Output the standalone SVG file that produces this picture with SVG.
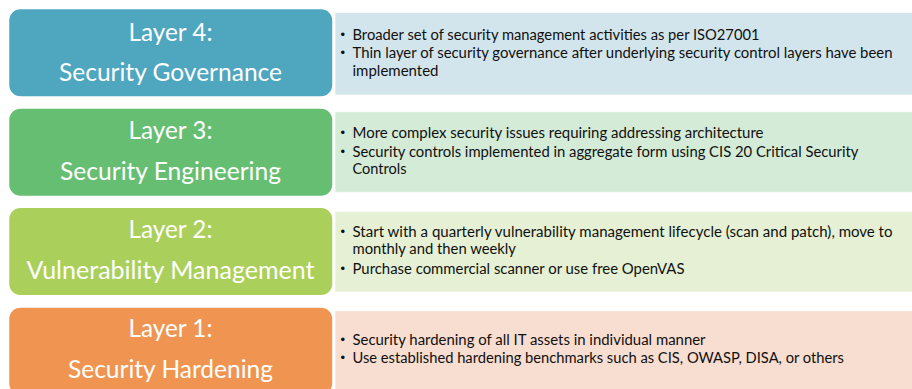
<svg xmlns="http://www.w3.org/2000/svg" width="912" height="389" viewBox="0 0 912 389">
  <style>
    .box { stroke: #ffffff; stroke-width: 1.5; }
    .panel { stroke: #ffffff; stroke-width: 1; stroke-opacity: 0.6; }
    .title { font-family: Lato, "Liberation Sans", sans-serif; font-size: 25px; fill: #ffffff; text-anchor: middle; }
    .body { font-family: Lato, "Liberation Sans", sans-serif; font-size: 15.5px; fill: #101010; }
    .dot { font-family: "Liberation Sans", sans-serif; font-size: 13px; fill: #101010; }
  </style>

  <rect width="912" height="389" fill="#ffffff"/>

  <!-- Layer 4 -->
  <g id="layer4">
    <rect class="panel" x="335" y="12.5" width="590" height="82.5" fill="#d3e5ec"/>
    <rect class="box" x="8.5" y="8.5" width="324.5" height="88.5" rx="12" fill="#4ea6bf"/>
    <text class="title" x="170.5" y="40.5" textLength="84" lengthAdjust="spacingAndGlyphs">Layer 4:</text>
    <text class="title" x="170.5" y="80.5" textLength="223" lengthAdjust="spacingAndGlyphs">Security Governance</text>
    <text class="dot" x="340.5" y="39">•</text>
    <text class="body" x="352.5" y="40" textLength="407" lengthAdjust="spacingAndGlyphs">Broader set of security management activities as per ISO27001</text>
    <text class="dot" x="340.5" y="57.3">•</text>
    <text class="body" x="352.5" y="58.3" textLength="540" lengthAdjust="spacingAndGlyphs">Thin layer of security governance after underlying security control layers have been</text>
    <text class="body" x="352.5" y="76" textLength="86" lengthAdjust="spacingAndGlyphs">implemented</text>
  </g>

  <!-- Layer 3 -->
  <g id="layer3">
    <rect class="panel" x="335" y="111.8" width="590" height="80.5" fill="#d4ebd7"/>
    <rect class="box" x="8.5" y="108" width="324.5" height="88.5" rx="12" fill="#66be72"/>
    <text class="title" x="170.5" y="139" textLength="84" lengthAdjust="spacingAndGlyphs">Layer 3:</text>
    <text class="title" x="170.5" y="180" textLength="221" lengthAdjust="spacingAndGlyphs">Security Engineering</text>
    <text class="dot" x="340.5" y="136.7">•</text>
    <text class="body" x="352.5" y="137.7" textLength="411" lengthAdjust="spacingAndGlyphs">More complex security issues requiring addressing architecture</text>
    <text class="dot" x="340.5" y="155.7">•</text>
    <text class="body" x="352.5" y="156.7" textLength="506" lengthAdjust="spacingAndGlyphs">Security controls implemented in aggregate form using CIS 20 Critical Security</text>
    <text class="body" x="352.5" y="174" textLength="54" lengthAdjust="spacingAndGlyphs">Controls</text>
  </g>

  <!-- Layer 2 -->
  <g id="layer2">
    <rect class="panel" x="335" y="211.5" width="590" height="80.5" fill="#e5f0d5"/>
    <rect class="box" x="8.5" y="207.3" width="324.5" height="88.5" rx="12" fill="#aacf5b"/>
    <text class="title" x="170.5" y="238" textLength="84" lengthAdjust="spacingAndGlyphs">Layer 2:</text>
    <text class="title" x="170.5" y="279.3" textLength="288" lengthAdjust="spacingAndGlyphs">Vulnerability Management</text>
    <text class="dot" x="340.5" y="235.7">•</text>
    <text class="body" x="352.5" y="236.7" textLength="540" lengthAdjust="spacingAndGlyphs">Start with a quarterly vulnerability management lifecycle (scan and patch), move to</text>
    <text class="body" x="352.5" y="253.5" textLength="163.5" lengthAdjust="spacingAndGlyphs">monthly and then weekly</text>
    <text class="dot" x="340.5" y="273">•</text>
    <text class="body" x="352.5" y="274" textLength="332" lengthAdjust="spacingAndGlyphs">Purchase commercial scanner or use free OpenVAS</text>
  </g>

  <!-- Layer 1 -->
  <g id="layer1">
    <rect class="panel" x="335" y="310.8" width="590" height="82" fill="#f8ddd1"/>
    <rect class="box" x="8.5" y="307" width="324.5" height="88.5" rx="12" fill="#ef9551"/>
    <text class="title" x="170.5" y="337" textLength="84" lengthAdjust="spacingAndGlyphs">Layer 1:</text>
    <text class="title" x="170.5" y="378.3" textLength="205" lengthAdjust="spacingAndGlyphs">Security Hardening</text>
    <text class="dot" x="340.5" y="343.7">•</text>
    <text class="body" x="352.5" y="344.7" textLength="353" lengthAdjust="spacingAndGlyphs">Security hardening of all IT assets in individual manner</text>
    <text class="dot" x="340.5" y="362.3">•</text>
    <text class="body" x="352.5" y="363.3" textLength="491.5" lengthAdjust="spacingAndGlyphs">Use established hardening benchmarks such as CIS, OWASP, DISA, or others</text>
  </g>
</svg>
